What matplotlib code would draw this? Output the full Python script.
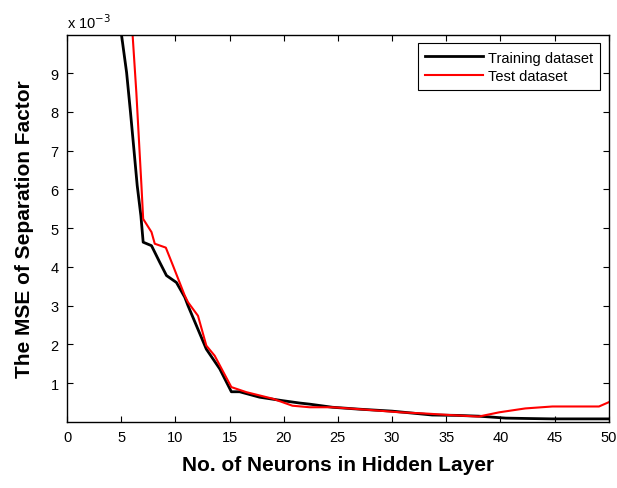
import matplotlib
matplotlib.use("Agg")
import matplotlib.pyplot as plt

plt.rcParams['font.family'] = ['Liberation Sans', 'DejaVu Sans']

# values, y in units of 1e-3
train_x = [5.0, 5.5, 5.86, 6.17, 6.48, 6.82, 7.03, 7.8, 8.56, 9.18, 10.1, 10.87,
           11.17, 11.94, 12.86, 14.1, 15.17, 15.93, 17.77, 19.9, 21.45, 22.4, 24.5,
           27.0, 30.0, 33.7, 36.0, 38.0, 40.5, 42.5, 44.8, 47.0, 50.0]
train_y = [10.05, 9.02, 7.99, 7.05, 6.1, 5.32, 4.64, 4.55, 4.12, 3.78, 3.6, 3.22,
           3.0, 2.49, 1.88, 1.37, 0.78, 0.78, 0.64, 0.55, 0.49, 0.46, 0.38,
           0.33, 0.28, 0.18, 0.17, 0.15, 0.1, 0.09, 0.08, 0.08, 0.08]

test_x = [6.04, 6.4, 6.6, 6.87, 7.03, 7.8, 8.1, 9.12, 9.79, 10.87, 11.17, 12.09,
          12.86, 13.63, 15.17, 16.55, 19.0, 20.8, 22.4, 24.5, 27.5, 30.7, 33.0,
          35.3, 38.0, 39.9, 42.3, 44.8, 47.0, 49.1, 50.0]
test_y = [10.05, 8.5, 7.48, 6.1, 5.24, 4.9, 4.6, 4.5, 4.03, 3.26, 3.09, 2.74,
          1.97, 1.71, 0.9, 0.77, 0.6, 0.42, 0.38, 0.38, 0.32, 0.25, 0.22,
          0.18, 0.14, 0.25, 0.35, 0.4, 0.4, 0.4, 0.51]

x_ticks = list(range(0, 51, 5))
y_ticks = list(range(1, 10))

fig = plt.figure(figsize=(6.17, 4.89), dpi=100)
ax = fig.add_axes([0.1086, 0.135, 0.878, 0.7924])

ax.plot(train_x, train_y, color="black", lw=2.0, label="Training dataset")
ax.plot(test_x, test_y, color="red", lw=1.5, label="Test dataset")

ax.set_xlim(0, 50)
ax.set_ylim(0, 10)
ax.set_xticks(x_ticks)
ax.set_yticks(y_ticks)
ax.tick_params(direction="in", top=True, right=True, labelsize=10.5, length=4,
               pad=6)
for s in ax.spines.values():
    s.set_linewidth(1.0)

ax.text(0.0, 1.01, r"x 10$^{-3}$", transform=ax.transAxes, fontsize=10.5,
        ha="left", va="bottom")

ax.set_xlabel("No. of Neurons in Hidden Layer", fontsize=15, fontweight="bold",
              labelpad=8)
ax.set_ylabel("The MSE of Separation Factor", fontsize=15, fontweight="bold",
              labelpad=12)

leg = ax.legend(loc="upper right", fontsize=10.5, handlelength=4.0,
                fancybox=False, edgecolor="black", framealpha=1,
                borderaxespad=0.6, labelspacing=0.3, handletextpad=0.3,
                borderpad=0.5)
leg.get_frame().set_linewidth(0.8)

fig.savefig("out.png", dpi=100)
